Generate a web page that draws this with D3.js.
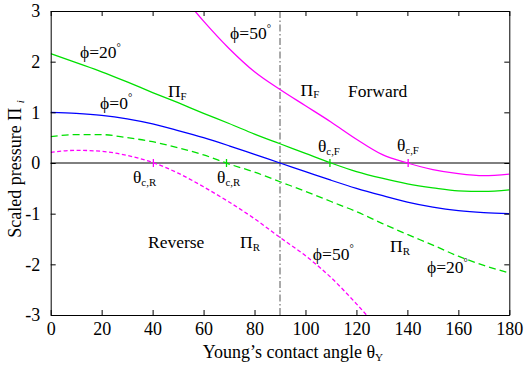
<!DOCTYPE html>
<html>
<head>
<meta charset="utf-8">
<script src="https://cdn.jsdelivr.net/npm/d3@7"></script>
<style>
  body {margin: 0; background: #fff}
  text {font-family: "Liberation Serif", "Times New Roman", serif; fill: #000}
</style>
</head>
<body>
<div id="chart"></div>
<script>
// values (theta in degrees, scaled pressure)
var theta = [0, 10, 20, 30, 40, 50, 60, 70, 80, 90, 100, 110, 120, 130, 140, 150, 160, 170, 180]
var phi0  = [1.00, 0.98, 0.94, 0.87, 0.77, 0.64, 0.50, 0.34, 0.17, 0.00, -0.17, -0.34, -0.50, -0.64, -0.77, -0.87, -0.94, -0.98, -1.00]
var fwd20 = [2.16, 1.98, 1.80, 1.60, 1.39, 1.19, 0.98, 0.78, 0.57, 0.38, 0.19, 0.00, -0.17, -0.30, -0.41, -0.49, -0.55, -0.56, -0.53]
var rev20 = [0.52, 0.56, 0.56, 0.50, 0.42, 0.30, 0.16, -0.02, -0.18, -0.37, -0.56, -0.76, -0.96, -1.19, -1.41, -1.62, -1.84, -2.02, -2.17]
var fwd50 = [null, null, null, null, null, 3.40, 2.80, 2.26, 1.80, 1.45, 1.13, 0.81, 0.47, 0.17, 0.00, -0.13, -0.21, -0.25, -0.22]
var rev50 = [0.21, 0.25, 0.23, 0.15, 0.01, -0.20, -0.47, -0.77, -1.10, -1.47, -1.83, -2.26, -2.78, -3.35, null, null, null, null, null]

// critical angles (zero crossings), marked with short ticks
var critAngles = [40.3, 69, 109.6, 140.3]
var critColors = ['#ff00ff', '#00e000', '#00e000', '#ff00ff']

var xTicks = [0, 20, 40, 60, 80, 100, 120, 140, 160, 180]
var yTicks = [-3, -2, -1, 0, 1, 2, 3]

var W = 524, H = 371
var margin = {top: 11, right: 14.7, bottom: 56, left: 50.7}
var width = W - margin.left - margin.right
var height = H - margin.top - margin.bottom
var serif = '"Liberation Serif", "Times New Roman", serif'

var x = d3.scaleLinear().domain([0, 180]).range([0, width])
var y = d3.scaleLinear().domain([-3, 3]).range([height, 0])

var series = [
  {vals: phi0,  color: '#0000ff', dash: null},
  {vals: fwd20, color: '#00e000', dash: null},
  {vals: rev20, color: '#00e000', dash: '7,4'},
  {vals: fwd50, color: '#ff00ff', dash: null},
  {vals: rev50, color: '#ff00ff', dash: '4,2.5'}
]

var svg = d3.select('#chart').append('svg')
  .attr('width', W)
  .attr('height', H)
var g = svg.append('g')
  .attr('transform', 'translate(' + margin.left + ',' + margin.top + ')')

g.append('clipPath').attr('id', 'clip')
  .append('rect').attr('width', width).attr('height', height)

// zero line and theta = 90 line
g.append('line')
  .attr('x1', 0).attr('x2', width)
  .attr('y1', y(0)).attr('y2', y(0))
  .attr('stroke', '#000').attr('stroke-width', 1)
g.append('line')
  .attr('x1', x(90)).attr('x2', x(90))
  .attr('y1', 0).attr('y2', height)
  .attr('stroke', '#555').attr('stroke-width', 1)
  .attr('stroke-dasharray', '7,2.5,1.5,2.5')

var line = d3.line()
  .defined(d => d[1] != null)
  .x(d => x(d[0]))
  .y(d => y(d[1]))
  .curve(d3.curveMonotoneX)

g.append('g').attr('clip-path', 'url(#clip)')
  .selectAll('path')
  .data(series)
  .enter()
    .append('path')
    .attr('d', s => line(theta.map((t, i) => [t, s.vals[i]])))
    .attr('fill', 'none')
    .attr('stroke', s => s.color)
    .attr('stroke-width', 1.3)
    .attr('stroke-dasharray', s => s.dash)

g.selectAll('.crit')
  .data(critAngles)
  .enter()
    .append('line')
    .attr('class', 'crit')
    .attr('x1', d => x(d)).attr('x2', d => x(d))
    .attr('y1', y(0) - 4).attr('y2', y(0) + 4)
    .attr('stroke', (d, i) => critColors[i])
    .attr('stroke-width', 1.3)

// axes, ticks pointing inward on all four sides
function styleAxis(sel) {
  sel.attr('font-family', serif).attr('font-size', 18)
  sel.selectAll('path').attr('stroke', '#000')
  sel.selectAll('line').attr('stroke', '#000')
  sel.selectAll('text')
    .style('font-family', serif)
    .style('font-size', '18px')
    .attr('fill', '#000')
}
g.append('g')
  .attr('transform', 'translate(0,' + height + ')')
  .call(d3.axisBottom(x).tickValues(xTicks).tickSizeInner(-5).tickSizeOuter(0).tickFormat(String))
  .call(styleAxis)
  .selectAll('text').attr('y', 20).attr('dy', 0)
g.append('g')
  .call(d3.axisTop(x).tickValues(xTicks).tickSizeInner(-5).tickSizeOuter(0).tickFormat(''))
  .call(styleAxis)
g.append('g')
  .call(d3.axisLeft(y).tickValues(yTicks).tickSizeInner(-5).tickSizeOuter(0).tickFormat(String))
  .call(styleAxis)
  .selectAll('text').attr('x', -10.5).attr('dy', '0.33em')
g.append('g')
  .attr('transform', 'translate(' + width + ',0)')
  .call(d3.axisRight(y).tickValues(yTicks).tickSizeInner(-5).tickSizeOuter(0).tickFormat(''))
  .call(styleAxis)

// text with sub/superscripts
function label(parent, px, py, parts, size, anchor) {
  var t = parent.append('text')
    .attr('x', px).attr('y', py)
    .attr('text-anchor', anchor || 'start')
    .style('font-size', size + 'px')
  var shift = 0
  parts.forEach(p => {
    var off = p[1] == 'sub' ? size * 0.16 : p[1] == 'sup' ? -size * 0.42 : 0
    var ts = t.append('tspan')
      .attr('dy', off - shift)
      .style('font-size', (p[1] == 'n' ? size : size * 0.62) + 'px')
      .text(p[0])
    if (p[2]) ts.style('font-style', 'italic')
    shift = off
  })
  return t
}

var notes = [
  [11.5, 2.07, [['ϕ=20', 'n'], ['°', 'sup']]],
  [46, 1.30, [['Π', 'n'], ['F', 'sub']]],
  [19.4, 1.07, [['ϕ=0', 'n'], ['°', 'sup']]],
  [32.3, -0.39, [['θ', 'n'], ['c,R', 'sub']]],
  [65.3, -0.39, [['θ', 'n'], ['c,R', 'sub']]],
  [70.4, 2.44, [['ϕ=50', 'n'], ['°', 'sup']]],
  [98.1, 1.33, [['Π', 'n'], ['F', 'sub']]],
  [116.7, 1.30, [['Forward', 'n']]],
  [104.9, 0.22, [['θ', 'n'], ['c,F', 'sub']]],
  [135.9, 0.24, [['θ', 'n'], ['c,F', 'sub']]],
  [38.2, -1.68, [['Reverse', 'n']]],
  [74.3, -1.68, [['Π', 'n'], ['R', 'sub']]],
  [102.9, -1.91, [['ϕ=50', 'n'], ['°', 'sup']]],
  [133.2, -1.76, [['Π', 'n'], ['R', 'sub']]],
  [147.7, -2.17, [['ϕ=20', 'n'], ['°', 'sup']]]
]
notes.forEach(n => label(g, x(n[0]), y(n[1]), n[2], 17.5))

// axis titles
label(svg, 293, 358, [['Young’s contact angle θ', 'n'], ['Y', 'sub']], 18, 'middle')
label(svg, 0, 0, [['Scaled pressure Π ', 'n'], ['i', 'sub', true]], 18, 'middle')
  .attr('transform', 'translate(21,169) rotate(-90)')
</script>
</body>
</html>
